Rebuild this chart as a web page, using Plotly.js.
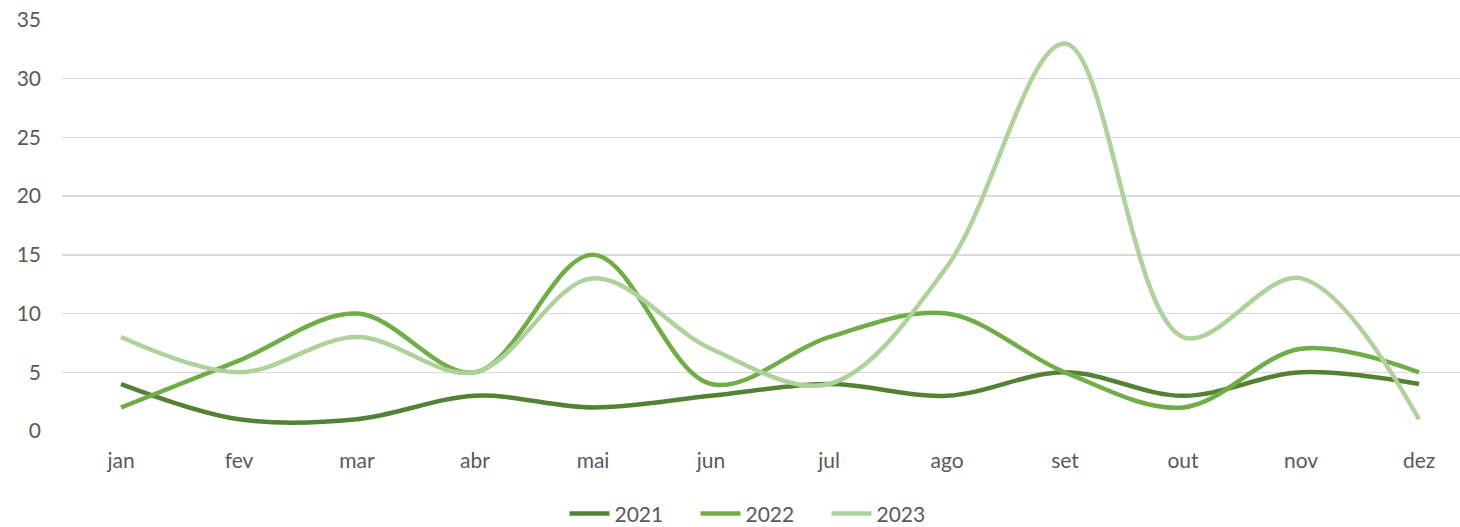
<!DOCTYPE html>
<html>
<head>
<meta charset="utf-8">
<script src="https://cdn.plot.ly/plotly-3.0.1.min.js"></script>
<style>html,body{margin:0;padding:0;background:#fff;}#chart{width:1460px;height:527px;}</style>
</head>
<body>
<div id="chart"></div>
<script>
const months = ["jan","fev","mar","abr","mai","jun","jul","ago","set","out","nov","dez"];
const y2021 = [4, 1, 1, 3, 2, 3, 4, 3, 5, 3, 5, 4];
const y2022 = [2, 6, 10, 5, 15, 4, 8, 10, 5, 2, 7, 5];
const y2023 = [8, 5, 8, 5, 13, 7, 4, 14, 33, 8, 13, 1];
const seriesNames = ["2021", "2022", "2023"];
const colors = ["#548235", "#70AD47", "#AFD19B"];

const font = {family: "Lato, 'Open Sans', sans-serif", size: 21, color: "#595959"};
const data = [y2021, y2022, y2023].map((ys, i) => ({
  type: "scatter", mode: "lines", name: seriesNames[i],
  x: months, y: ys,
  line: {color: colors[i], width: 4.5, shape: "spline", smoothing: 1},
  hoverinfo: "skip"
}));

const layout = {
  width: 1460, height: 527,
  margin: {l: 62, r: 0, t: 20, b: 96, autoexpand: false},
  paper_bgcolor: "#fff", plot_bgcolor: "#fff",
  font: font,
  showlegend: true,
  legend: {orientation: "h", x: 0.5, xanchor: "center", y: -0.152, yanchor: "top", font: font,
           traceorder: "normal", itemwidth: 40, entrywidth: 76, entrywidthmode: "pixels"},
  xaxis: {
    type: "category", range: [-0.5, 11.347], showgrid: false, zeroline: false,
    showline: false, ticks: "", tickfont: font, ticklabelstandoff: 15, fixedrange: true
  },
  yaxis: {
    range: [0, 35], dtick: 5, tick0: 0, showgrid: true, gridcolor: "#D9D9D9", gridwidth: 1.5,
    zeroline: false, showline: false, ticks: "", tickfont: font, ticklabelstandoff: 20, fixedrange: true
  }
};
Plotly.newPlot("chart", data, layout, {displayModeBar: false, staticPlot: true});
</script>
</body>
</html>
